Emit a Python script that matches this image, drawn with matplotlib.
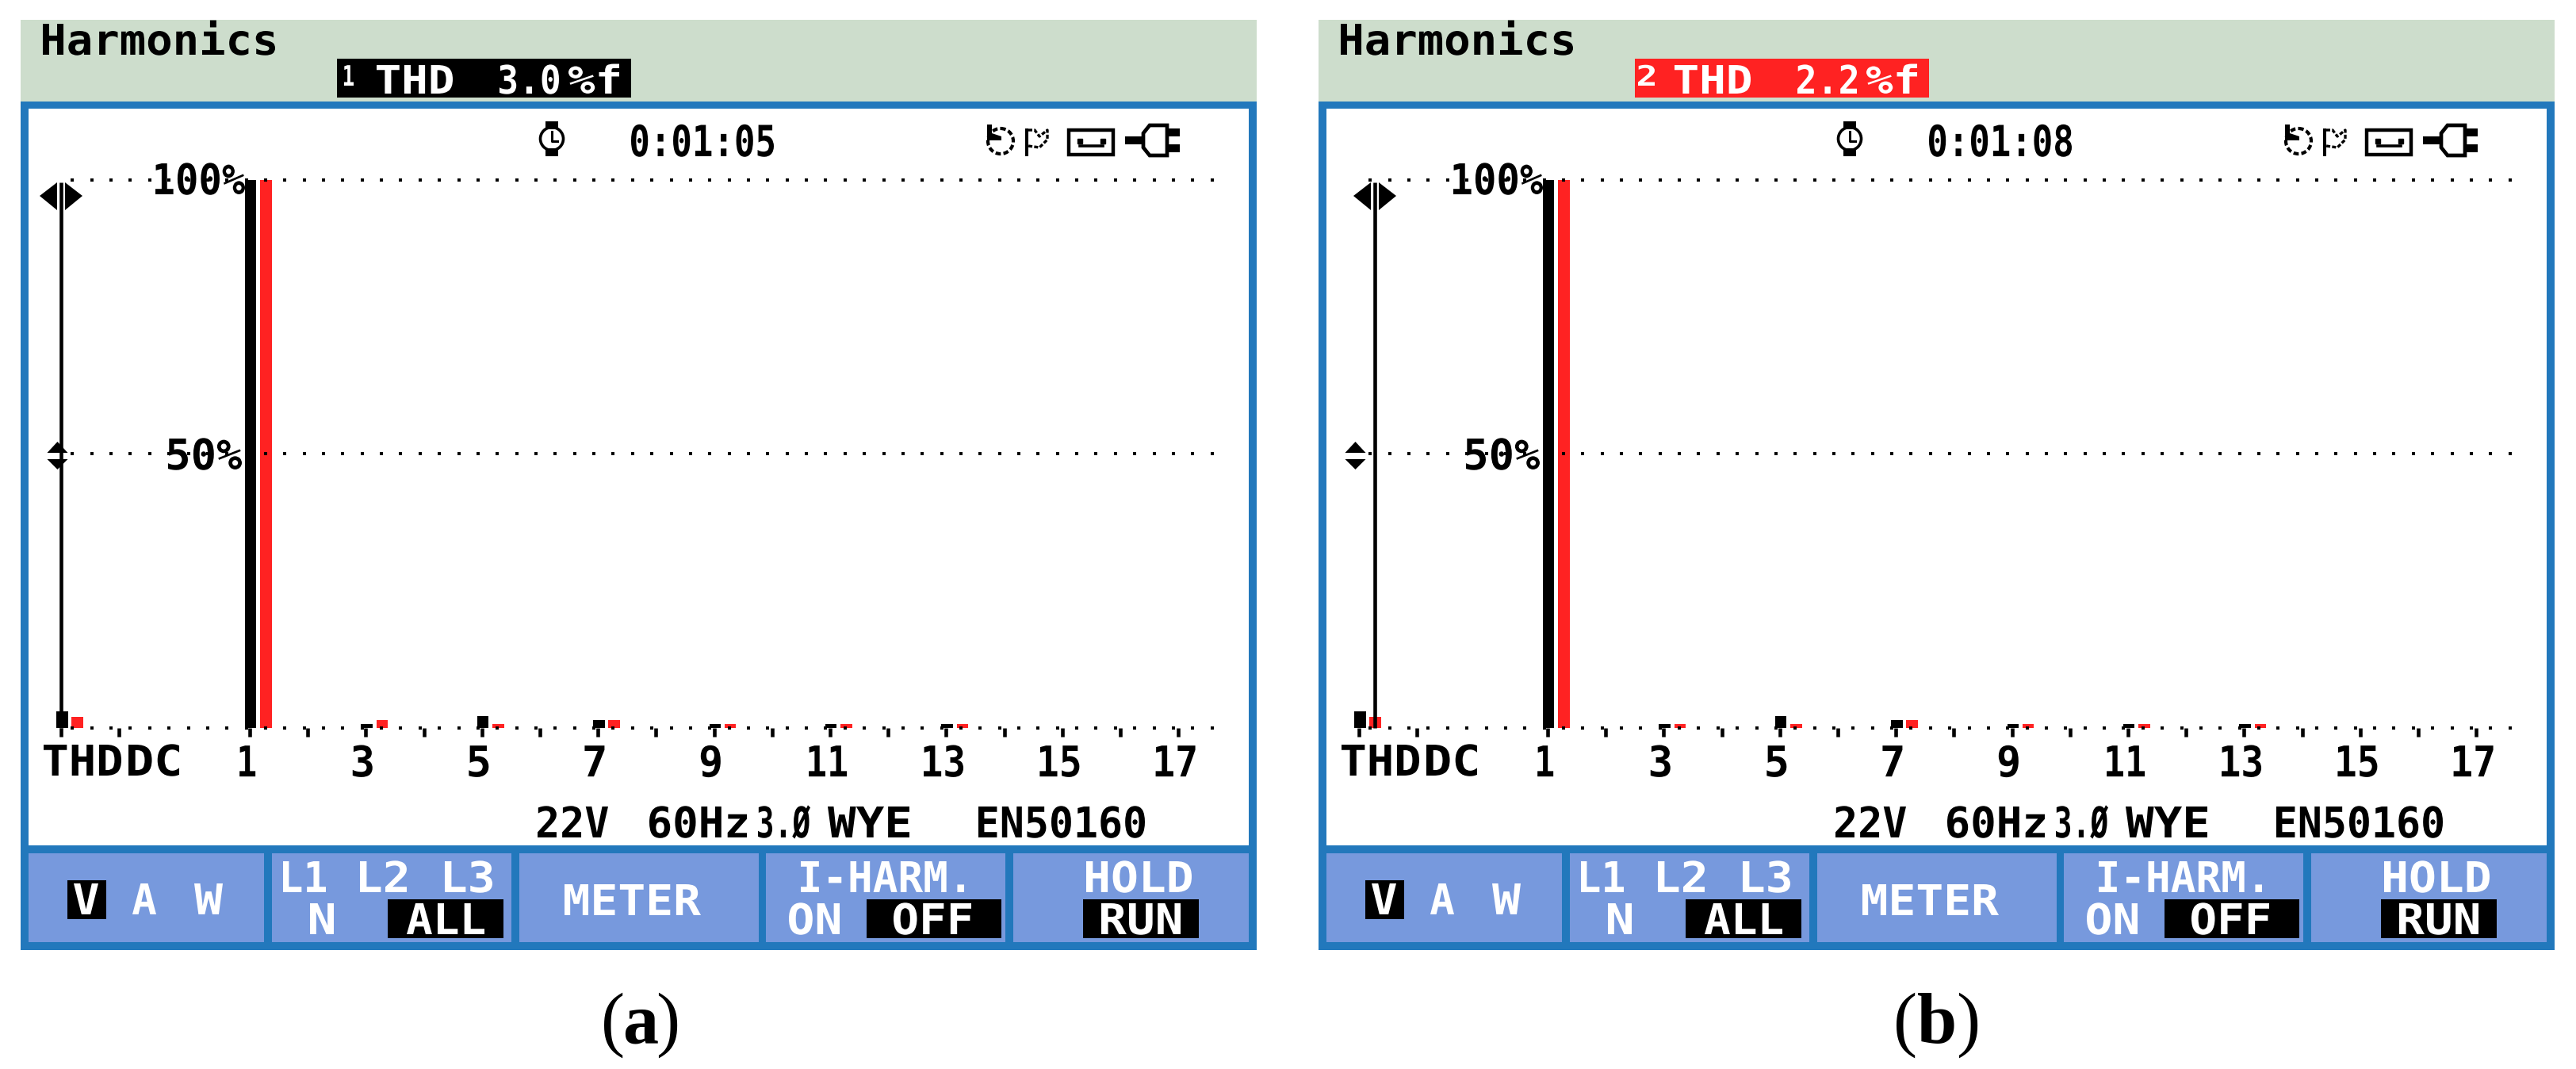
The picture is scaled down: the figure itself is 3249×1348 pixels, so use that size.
import matplotlib
matplotlib.use('Agg')
import matplotlib.pyplot as plt
from matplotlib.patches import Rectangle, Polygon, Circle
from matplotlib.patheffects import AbstractPathEffect
from matplotlib.transforms import Affine2D, ScaledTranslation
import numpy as np

W, H = 3249, 1348
DPI = 100
PANEL_SHIFT = 1637

# harmonic values in percent of the fundamental, read from the screens
orders = [-2.25, 1, 3, 5, 7, 9, 11, 13]
black_a = [3.0, 100, 0.7, 2.1, 1.4, 0.7, 0.7, 0.7]
red_a = [2.0, 100, 1.4, 0.7, 1.4, 0.7, 0.7, 0.7]
black_b = [3.0, 100, 0.7, 2.1, 1.4, 0.7, 0.7, 0.7]
red_b = [2.0, 100, 0.7, 0.7, 1.4, 0.7, 0.7, 0.7]

major_ticks = [-2.25, -1.25, 1, 3, 5, 7, 9, 11, 13, 15, 17]
minor_ticks = [2, 4, 6, 8, 10, 12, 14, 16]
tick_labels = ['', '', '1', '3', '5', '7', '9', '11', '13', '15', '17']
label_widths = [1, 1, 20, 25, 25, 25, 25, 48, 50, 50, 50]

GREEN = '#cdddcc'
BLUE = '#2278bc'
BUTTON = '#7799dd'
RED = '#ff2222'
MONO = 'DejaVu Sans Mono'
SERIF = 'Liberation Serif'


class Fit(AbstractPathEffect):
    # squeeze the text sideways, the screen font is narrower than any installed one
    def __init__(self, width, left=None):
        self.width = width
        self.left = left

    def draw_path(self, renderer, gc, tpath, affine, rgbFace=None):
        box = tpath.get_extents(affine)
        x0 = box.x0 if self.left is None else self.left
        if self.left is None:
            x0 = (box.x0 + box.x1 - self.width) / 2
        squeeze = Affine2D().translate(-box.x0, 0).scale(self.width / box.width, 1).translate(x0, 0)
        renderer.draw_path(gc, tpath, affine + squeeze, rgbFace)


fig = plt.figure(figsize=(W / DPI, H / DPI), dpi=DPI, facecolor='white')
page = fig.add_axes([0, 0, 1, 1], zorder=0)
page.set_xlim(0, W)
page.set_ylim(H, 0)
page.axis('off')


def rect(x0, y0, x1, y1, color, z=1):
    page.add_patch(Rectangle((x0, y0), x1 - x0, y1 - y0, fc=color, ec='none', zorder=z))


def txt(x0, x1, y, s, color='black', size=38.5):
    page.text(x0, y, s, color=color, fontsize=size, ha='left', va='baseline', family=MONO,
              fontweight='bold', zorder=6, path_effects=[Fit(x1 - x0, left=x0)])


def icons(dx):
    # clock
    page.add_patch(Circle((696 + dx, 175), 14.5, fc='white', ec='black', lw=2.6, zorder=5))
    rect(688 + dx, 153, 704 + dx, 163, 'black', z=5)
    rect(688 + dx, 187, 704 + dx, 197, 'black', z=5)
    page.plot([696 + dx, 696 + dx, 703 + dx], [166, 178, 178], 'k', lw=2.2, zorder=6)
    # undo arrow
    page.add_patch(Circle((1262 + dx, 178), 16, fc='none', ec='black', lw=3, ls=(0, (1.6, 0.8)), zorder=5))
    page.add_patch(Polygon([(1245 + dx, 157), (1251 + dx, 157), (1251 + dx, 168), (1263 + dx, 172),
                            (1263 + dx, 177), (1245 + dx, 177)], fc='black', ec='none', zorder=5))
    # flag
    rect(1293 + dx, 162, 1297 + dx, 197, 'black', z=5)
    page.plot([1297 + dx, 1305 + dx, 1311 + dx, 1321 + dx, 1321 + dx, 1311 + dx, 1297 + dx],
              [164, 164, 172, 164, 176, 186, 184], 'k', lw=2.4, ls=(0, (1.5, 0.7)), zorder=5)
    # tape
    page.add_patch(Rectangle((1348 + dx, 164), 56, 31, fc='white', ec='black', lw=3.2, zorder=5))
    page.plot([1362 + dx, 1391 + dx], [184, 184], 'k', lw=2.6, zorder=6)
    page.plot([1362 + dx, 1391 + dx], [178, 178], 'ks', ms=5, zorder=6)
    # plug
    rect(1419 + dx, 172, 1445 + dx, 182, 'black', z=5)
    page.add_patch(Polygon([(1450 + dx, 158), (1472 + dx, 158), (1472 + dx, 196), (1450 + dx, 196),
                            (1442 + dx, 186), (1442 + dx, 168)], fc='white', ec='black', lw=3.4, zorder=5))
    rect(1472 + dx, 162, 1488 + dx, 172, 'black', z=5)
    rect(1472 + dx, 182, 1488 + dx, 192, 'black', z=5)


def panel(dx, value, box_col, mark, mark_x, clock, black, red, cur_order, cur_x, letter, letter_x):
    rect(26 + dx, 25, 1585 + dx, 128, GREEN)
    rect(26 + dx, 128, 1585 + dx, 1198, BLUE)
    rect(36 + dx, 137, 1575 + dx, 1066, 'white')
    for x0, x1 in [(36, 333), (343, 645), (655, 957), (966, 1268), (1278, 1575)]:
        rect(x0 + dx, 1076, x1 + dx, 1188, BUTTON, z=2)

    txt(54 + dx, 347 + dx, 69, 'Harmonics')
    rect(425 + dx, 74, 796 + dx, 123, box_col, z=2)
    txt(mark_x[0] + dx, mark_x[1] + dx, 108, mark, color='white', size=25.5)
    txt(475 + dx, 571 + dx, 118, 'THD', color='white', size=35.5)
    txt(630 + dx, 705 + dx, 118, value, color='white', size=35.5)
    txt(717 + dx, 781 + dx, 118, '%f', color='white', size=35.5)
    txt(796 + dx, 976 + dx, 197, clock, size=39)
    icons(dx)

    # plot area in order / percent, placed on the screen by pixel position
    x_l, x_r = 40, 1570
    ax = fig.add_axes([(x_l + dx) / W, (H - 918) / H, (x_r - x_l) / W, (918 - 227) / H], zorder=3)
    ax.patch.set_alpha(0)
    ax.set_xlim(1 + (x_l - 315) / 73.2, 1 + (x_r - 315) / 73.2)
    ax.set_ylim(0, 100)
    for s in ax.spines.values():
        s.set_visible(False)
    ax.set_yticks([])
    ax.set_xticks(major_ticks, tick_labels, family=MONO, fontweight='bold', fontsize=38.5)
    ax.set_xticks(minor_ticks, minor=True)
    ax.tick_params(axis='x', which='both', length=8, width=3.3, color='black', pad=6.5)
    for lab, w in zip(ax.get_xticklabels(), label_widths):
        lab.set_transform(lab.get_transform() + ScaledTranslation(-4 / DPI, 0, fig.dpi_scale_trans))
        lab.set_path_effects([Fit(w)])

    o = np.array(orders)
    ax.bar(o + 0.017, black, width=0.198, color='black', zorder=2, clip_on=False)
    ax.bar(o + 0.28, red, width=0.198, color=RED, zorder=2, clip_on=False)

    # dotted graticule, one dot every third of an order
    dots = 17.58 - np.arange(0, 60) * 0.3328
    top = dots[dots > -2.45]
    low = dots[dots > -2.1]
    ms = 3.3
    ax.plot(top, [100] * len(top), 's', color='black', ms=ms, mew=0, zorder=3, clip_on=False)
    ax.plot(low, [50] * len(low), 's', color='black', ms=ms, mew=0, zorder=3, clip_on=False)
    ax.plot(low, [0] * len(low), 's', color='black', ms=ms, mew=0, zorder=3, clip_on=False)

    # cursor line runs over the bars
    ax.plot([cur_order, cur_order], [0, 99.6], color='black', lw=3.3, zorder=4, clip_on=False,
            solid_capstyle='butt')
    xc = cur_x + dx
    page.add_patch(Polygon([(xc - 5, 230), (xc - 5, 265), (xc - 27, 247)], fc='black', ec='none', zorder=6))
    page.add_patch(Polygon([(xc + 5, 230), (xc + 5, 265), (xc + 27, 247)], fc='black', ec='none', zorder=6))
    # the 50% marker stays put when the cursor moves
    xm = 72.5 + dx
    page.add_patch(Polygon([(xm - 13, 571), (xm, 557), (xm + 13, 571)], fc='black', ec='none', zorder=6))
    page.add_patch(Polygon([(xm - 13, 579), (xm, 592), (xm + 13, 579)], fc='black', ec='none', zorder=6))

    txt(196 + dx, 309 + dx, 245, '100%')
    txt(212 + dx, 305 + dx, 592, '50%')
    txt(55 + dx, 153 + dx, 978, 'THD')
    txt(162 + dx, 226 + dx, 978, 'DC')

    txt(678 + dx, 767 + dx, 1056, '22V')
    txt(819 + dx, 942 + dx, 1056, '60Hz')
    txt(956 + dx, 1022 + dx, 1056, '3.Ø')
    txt(1044 + dx, 1147 + dx, 1056, 'WYE')
    txt(1234 + dx, 1444 + dx, 1056, 'EN50160')

    # soft keys
    rect(85 + dx, 1110, 134 + dx, 1159, 'black', z=3)
    txt(93 + dx, 124 + dx, 1153, 'V', color='white')
    txt(167 + dx, 197 + dx, 1153, 'A', color='white')
    txt(245 + dx, 281 + dx, 1153, 'W', color='white')
    txt(357 + dx, 411 + dx, 1125, 'L1', color='white')
    txt(454 + dx, 513 + dx, 1125, 'L2', color='white')
    txt(561 + dx, 621 + dx, 1125, 'L3', color='white')
    txt(391 + dx, 421 + dx, 1178, 'N', color='white')
    rect(489 + dx, 1134, 635 + dx, 1183, 'black', z=3)
    txt(513 + dx, 611 + dx, 1178, 'ALL', color='white')
    txt(712 + dx, 884 + dx, 1154, 'METER', color='white')
    txt(1010 + dx, 1216 + dx, 1125, 'I-HARM.', color='white')
    txt(995 + dx, 1059 + dx, 1178, 'ON', color='white')
    rect(1093 + dx, 1134, 1263 + dx, 1183, 'black', z=3)
    txt(1127 + dx, 1225 + dx, 1178, 'OFF', color='white')
    txt(1370 + dx, 1503 + dx, 1125, 'HOLD', color='white')
    rect(1366 + dx, 1134, 1512 + dx, 1183, 'black', z=3)
    txt(1389 + dx, 1489 + dx, 1178, 'RUN', color='white')

    # caption, bold letter between plain brackets
    for x, s, weight in [(letter_x[0], '(', 'normal'), (letter_x[1], letter, 'bold'), (letter_x[2], ')', 'normal')]:
        page.text(x + dx, 1315, s, fontsize=65, family=SERIF, fontweight=weight, ha='center', va='baseline')


panel(0, '3.0', 'black', '1', (434, 446), '0:01:05', black_a, red_a, -2.25, 77, 'a', (773, 808, 842))
panel(PANEL_SHIFT, '2.2', RED, '2', (429, 450), '0:01:08', black_b, red_b, -1.98, 97, 'b', (766, 806, 845))

fig.savefig('out.png', dpi=DPI)
